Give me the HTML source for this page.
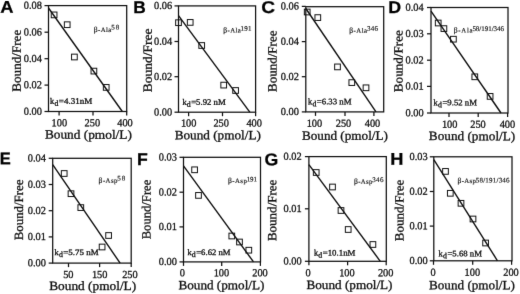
<!DOCTYPE html>
<html><head><meta charset="utf-8"><style>
html,body{margin:0;padding:0;background:#fff;width:520px;height:294px;overflow:hidden}
svg{display:block;text-rendering:geometricPrecision}
.ax{fill:none;stroke:#111;stroke-width:1.25}
.rl{stroke:#111;stroke-width:1.4}
.sq{fill:none;stroke:#111;stroke-width:1.0}
text{font-family:"Liberation Serif", serif;fill:#111;stroke:#111;stroke-width:0.3px}
.let{font-family:"Liberation Sans", sans-serif;font-weight:bold;font-size:17px;fill:#000;stroke:#000;stroke-width:0.25px}
.tk{font-size:10.8px}
.an{font-size:6.8px;stroke-width:0.15px}
.beta{font-size:7.6px}
.sup{font-size:7.0px;stroke-width:0.15px}
.kd{font-size:8.3px}
.sub{font-size:7.8px}
.lab{font-size:12.6px}
</style></head><body>
<svg xmlns="http://www.w3.org/2000/svg" width="520" height="294" viewBox="0 0 520 294">
<defs><filter id="bl" x="0" y="0" width="520" height="294" filterUnits="userSpaceOnUse" color-interpolation-filters="sRGB"><feConvolveMatrix order="3" kernelMatrix="0.00524 0.06192 0.00524 0.06192 0.73137 0.06192 0.00524 0.06192 0.00524" divisor="1" edgeMode="duplicate"/></filter></defs>
<g filter="url(#bl)">
<rect width="520" height="294" fill="#fff"/>
<g><text transform="translate(6.8,12.8) scale(1.08,1) rotate(0.05)" class="let" text-anchor="middle">A</text>
<rect x="48.5" y="5.6" width="78.2" height="105.9" class="ax"/>
<line x1="44.5" y1="5.6" x2="48.5" y2="5.6" class="ax"/>
<text transform="translate(42,8.8) scale(0.96,1) rotate(0.05)" class="tk" text-anchor="end">0.08</text>
<line x1="44.5" y1="32.2" x2="48.5" y2="32.2" class="ax"/>
<text transform="translate(42,35.4) scale(0.96,1) rotate(0.05)" class="tk" text-anchor="end">0.06</text>
<line x1="44.5" y1="58.7" x2="48.5" y2="58.7" class="ax"/>
<text transform="translate(42,61.9) scale(0.96,1) rotate(0.05)" class="tk" text-anchor="end">0.04</text>
<line x1="44.5" y1="85.1" x2="48.5" y2="85.1" class="ax"/>
<text transform="translate(42,88.3) scale(0.96,1) rotate(0.05)" class="tk" text-anchor="end">0.02</text>
<line x1="44.5" y1="111.5" x2="48.5" y2="111.5" class="ax"/>
<text transform="translate(42,114.7) scale(0.96,1) rotate(0.05)" class="tk" text-anchor="end">0.00</text>
<line x1="59.1" y1="111.5" x2="59.1" y2="115.5" class="ax"/>
<text transform="translate(59.3,126.3) scale(0.96,1) rotate(0.05)" class="tk" text-anchor="middle">100</text>
<line x1="93" y1="111.5" x2="93" y2="115.5" class="ax"/>
<text transform="translate(92.3,126.3) scale(0.96,1) rotate(0.05)" class="tk" text-anchor="middle">250</text>
<line x1="126.7" y1="111.5" x2="126.7" y2="115.5" class="ax"/>
<text transform="translate(125,126.3) scale(0.96,1) rotate(0.05)" class="tk" text-anchor="middle">400</text>
<line x1="48.5" y1="8" x2="122.3" y2="111.5" class="rl"/>
<rect x="51.25" y="12.05" width="5.7" height="5.7" class="sq"/>
<rect x="64.35" y="21.85" width="5.7" height="5.7" class="sq"/>
<rect x="71.55" y="54.15" width="5.7" height="5.7" class="sq"/>
<rect x="91.05" y="68.25" width="5.7" height="5.7" class="sq"/>
<rect x="103.35" y="84.55" width="5.7" height="5.7" class="sq"/>
<text transform="translate(93.8,32.1) rotate(0.05)" class="an" textLength="17.6" lengthAdjust="spacing"><tspan class="beta">β</tspan>-Ala</text>
<text transform="translate(111.3,29.4) rotate(0.05)" class="sup" textLength="8" lengthAdjust="spacing">58</text>
<text transform="translate(50,103.7) rotate(0.05)" class="kd">k</text>
<text transform="translate(54.4,105.7) rotate(0.05)" class="sub">d</text>
<text transform="translate(58.8,103.7) rotate(0.05)" class="kd" textLength="33.35" lengthAdjust="spacingAndGlyphs">=4.31nM</text>
<text transform="translate(20.8,91.7) rotate(-89.95)" class="lab" textLength="61.9" lengthAdjust="spacingAndGlyphs">Bound/Free</text>
<text transform="translate(44.9,138.6) rotate(0.05)" class="lab" textLength="87" lengthAdjust="spacingAndGlyphs">Bound (pmol/L)</text></g>
<g><text transform="translate(139.45,12.9) scale(1.02,1) rotate(0.05)" class="let" text-anchor="middle">B</text>
<rect x="178.5" y="5.9" width="77.1" height="106.3" class="ax"/>
<line x1="174.5" y1="5.9" x2="178.5" y2="5.9" class="ax"/>
<text transform="translate(172.1,9.1) scale(0.96,1) rotate(0.05)" class="tk" text-anchor="end">0.06</text>
<line x1="174.5" y1="41.5" x2="178.5" y2="41.5" class="ax"/>
<text transform="translate(172.1,44.7) scale(0.96,1) rotate(0.05)" class="tk" text-anchor="end">0.04</text>
<line x1="174.5" y1="76.7" x2="178.5" y2="76.7" class="ax"/>
<text transform="translate(172.1,79.9) scale(0.96,1) rotate(0.05)" class="tk" text-anchor="end">0.02</text>
<line x1="174.5" y1="112.2" x2="178.5" y2="112.2" class="ax"/>
<text transform="translate(172.1,115.4) scale(0.96,1) rotate(0.05)" class="tk" text-anchor="end">0.00</text>
<line x1="188.6" y1="112.2" x2="188.6" y2="116.2" class="ax"/>
<text transform="translate(188.7,126.5) scale(0.96,1) rotate(0.05)" class="tk" text-anchor="middle">100</text>
<line x1="222.5" y1="112.2" x2="222.5" y2="116.2" class="ax"/>
<text transform="translate(221.2,126.5) scale(0.96,1) rotate(0.05)" class="tk" text-anchor="middle">250</text>
<line x1="255.6" y1="112.2" x2="255.6" y2="116.2" class="ax"/>
<text transform="translate(254.2,126.5) scale(0.96,1) rotate(0.05)" class="tk" text-anchor="middle">400</text>
<line x1="178.5" y1="15.7" x2="249.8" y2="112.2" class="rl"/>
<rect x="175.65" y="19.85" width="5.7" height="5.7" class="sq"/>
<rect x="187.35" y="19.55" width="5.7" height="5.7" class="sq"/>
<rect x="198.85" y="42.65" width="5.7" height="5.7" class="sq"/>
<rect x="220.85" y="82.25" width="5.7" height="5.7" class="sq"/>
<rect x="232.75" y="87.65" width="5.7" height="5.7" class="sq"/>
<text transform="translate(223.3,32.5) rotate(0.05)" class="an" textLength="17.4" lengthAdjust="spacing"><tspan class="beta">β</tspan>-Ala</text>
<text transform="translate(240.6,30.8) rotate(0.05)" class="sup" textLength="10.8" lengthAdjust="spacing">191</text>
<text transform="translate(182.4,104.7) rotate(0.05)" class="kd">k</text>
<text transform="translate(186.8,106.7) rotate(0.05)" class="sub">d</text>
<text transform="translate(191.2,104.7) rotate(0.05)" class="kd" textLength="34.5" lengthAdjust="spacingAndGlyphs">=5.92 nM</text>
<text transform="translate(151.7,92.3) rotate(-89.95)" class="lab" textLength="63.9" lengthAdjust="spacingAndGlyphs">Bound/Free</text>
<text transform="translate(174.7,139.3) rotate(0.05)" class="lab" textLength="86.2" lengthAdjust="spacingAndGlyphs">Bound (pmol/L)</text></g>
<g><text transform="translate(268.2,12.9) scale(1.12,1) rotate(0.05)" class="let" text-anchor="middle">C</text>
<rect x="305.8" y="6.7" width="77.9" height="105.2" class="ax"/>
<line x1="301.8" y1="6.4" x2="305.8" y2="6.4" class="ax"/>
<text transform="translate(299,9.6) scale(0.96,1) rotate(0.05)" class="tk" text-anchor="end">0.06</text>
<line x1="301.8" y1="41.6" x2="305.8" y2="41.6" class="ax"/>
<text transform="translate(299,44.8) scale(0.96,1) rotate(0.05)" class="tk" text-anchor="end">0.04</text>
<line x1="301.8" y1="76.7" x2="305.8" y2="76.7" class="ax"/>
<text transform="translate(299,79.9) scale(0.96,1) rotate(0.05)" class="tk" text-anchor="end">0.02</text>
<line x1="301.8" y1="111.9" x2="305.8" y2="111.9" class="ax"/>
<text transform="translate(299,115.1) scale(0.96,1) rotate(0.05)" class="tk" text-anchor="end">0.00</text>
<line x1="315.5" y1="111.9" x2="315.5" y2="115.9" class="ax"/>
<text transform="translate(314.4,126.7) scale(0.96,1) rotate(0.05)" class="tk" text-anchor="middle">100</text>
<line x1="345" y1="111.9" x2="345" y2="115.9" class="ax"/>
<text transform="translate(343.5,126.7) scale(0.96,1) rotate(0.05)" class="tk" text-anchor="middle">250</text>
<line x1="373.9" y1="111.9" x2="373.9" y2="115.9" class="ax"/>
<text transform="translate(372.5,126.7) scale(0.96,1) rotate(0.05)" class="tk" text-anchor="middle">400</text>
<line x1="305.8" y1="8.5" x2="376" y2="111.9" class="rl"/>
<rect x="304.35" y="9.15" width="5.7" height="5.7" class="sq"/>
<rect x="314.95" y="14.75" width="5.7" height="5.7" class="sq"/>
<rect x="334.65" y="64.05" width="5.7" height="5.7" class="sq"/>
<rect x="348.95" y="79.75" width="5.7" height="5.7" class="sq"/>
<rect x="363.15" y="84.95" width="5.7" height="5.7" class="sq"/>
<text transform="translate(349.2,32.7) rotate(0.05)" class="an" textLength="17.9" lengthAdjust="spacing"><tspan class="beta">β</tspan>-Ala</text>
<text transform="translate(367,30.8) rotate(0.05)" class="sup" textLength="11.1" lengthAdjust="spacing">346</text>
<text transform="translate(308,104.3) rotate(0.05)" class="kd">k</text>
<text transform="translate(312.4,106.3) rotate(0.05)" class="sub">d</text>
<text transform="translate(316.8,104.3) rotate(0.05)" class="kd" textLength="34.8" lengthAdjust="spacingAndGlyphs">=6.33 nM</text>
<text transform="translate(276.4,92) rotate(-89.95)" class="lab" textLength="61.5" lengthAdjust="spacingAndGlyphs">Bound/Free</text>
<text transform="translate(301.9,139.8) rotate(0.05)" class="lab" textLength="86.1" lengthAdjust="spacingAndGlyphs">Bound (pmol/L)</text></g>
<g><text transform="translate(394.7,12.9) scale(1.05,1) rotate(0.05)" class="let" text-anchor="middle">D</text>
<rect x="431" y="7.5" width="77" height="105.5" class="ax"/>
<line x1="427" y1="7.5" x2="431" y2="7.5" class="ax"/>
<text transform="translate(423.7,10.7) scale(0.96,1) rotate(0.05)" class="tk" text-anchor="end">0.04</text>
<line x1="427" y1="33.8" x2="431" y2="33.8" class="ax"/>
<text transform="translate(423.7,37) scale(0.96,1) rotate(0.05)" class="tk" text-anchor="end">0.03</text>
<line x1="427" y1="60.2" x2="431" y2="60.2" class="ax"/>
<text transform="translate(423.7,63.4) scale(0.96,1) rotate(0.05)" class="tk" text-anchor="end">0.02</text>
<line x1="427" y1="86.4" x2="431" y2="86.4" class="ax"/>
<text transform="translate(423.7,89.6) scale(0.96,1) rotate(0.05)" class="tk" text-anchor="end">0.01</text>
<line x1="427" y1="113" x2="431" y2="113" class="ax"/>
<text transform="translate(423.7,116.2) scale(0.96,1) rotate(0.05)" class="tk" text-anchor="end">0.00</text>
<line x1="449" y1="113" x2="449" y2="117" class="ax"/>
<text transform="translate(449.7,127.8) scale(0.96,1) rotate(0.05)" class="tk" text-anchor="middle">100</text>
<line x1="478.2" y1="113" x2="478.2" y2="117" class="ax"/>
<text transform="translate(478,127.8) scale(0.96,1) rotate(0.05)" class="tk" text-anchor="middle">250</text>
<line x1="507.6" y1="113" x2="507.6" y2="117" class="ax"/>
<text transform="translate(507.4,127.8) scale(0.96,1) rotate(0.05)" class="tk" text-anchor="middle">400</text>
<line x1="431" y1="11.1" x2="501" y2="113" class="rl"/>
<rect x="435.35" y="20.15" width="5.7" height="5.7" class="sq"/>
<rect x="441.05" y="25.75" width="5.7" height="5.7" class="sq"/>
<rect x="450.55" y="36.35" width="5.7" height="5.7" class="sq"/>
<rect x="471.95" y="73.95" width="5.7" height="5.7" class="sq"/>
<rect x="487.25" y="93.55" width="5.7" height="5.7" class="sq"/>
<text transform="translate(453.8,32.6) rotate(0.05)" class="an" textLength="18.7" lengthAdjust="spacing"><tspan class="beta">β</tspan>-Ala</text>
<text transform="translate(472.4,30.9) rotate(0.05)" class="sup" textLength="31.6" lengthAdjust="spacing">58/191/346</text>
<text transform="translate(433.6,105.3) rotate(0.05)" class="kd">k</text>
<text transform="translate(438,107.3) rotate(0.05)" class="sub">d</text>
<text transform="translate(442.4,105.3) rotate(0.05)" class="kd" textLength="34.6" lengthAdjust="spacingAndGlyphs">=9.52 nM</text>
<text transform="translate(402.5,92.2) rotate(-89.95)" class="lab" textLength="62.1" lengthAdjust="spacingAndGlyphs">Bound/Free</text>
<text transform="translate(428.8,140.1) rotate(0.05)" class="lab" textLength="86.5" lengthAdjust="spacingAndGlyphs">Bound (pmol/L)</text></g>
<g><text transform="translate(5.2,164.3) scale(0.97,1) rotate(0.05)" class="let" text-anchor="middle">E</text>
<rect x="52.7" y="158.3" width="78.5" height="104.8" class="ax"/>
<line x1="48.7" y1="158.3" x2="52.7" y2="158.3" class="ax"/>
<text transform="translate(45.9,161.5) scale(0.96,1) rotate(0.05)" class="tk" text-anchor="end">0.04</text>
<line x1="48.7" y1="184.5" x2="52.7" y2="184.5" class="ax"/>
<text transform="translate(45.9,187.7) scale(0.96,1) rotate(0.05)" class="tk" text-anchor="end">0.03</text>
<line x1="48.7" y1="210.7" x2="52.7" y2="210.7" class="ax"/>
<text transform="translate(45.9,213.9) scale(0.96,1) rotate(0.05)" class="tk" text-anchor="end">0.02</text>
<line x1="48.7" y1="236.9" x2="52.7" y2="236.9" class="ax"/>
<text transform="translate(45.9,240.1) scale(0.96,1) rotate(0.05)" class="tk" text-anchor="end">0.01</text>
<line x1="48.7" y1="263.1" x2="52.7" y2="263.1" class="ax"/>
<text transform="translate(45.9,266.3) scale(0.96,1) rotate(0.05)" class="tk" text-anchor="end">0.00</text>
<line x1="68.5" y1="263.1" x2="68.5" y2="267.1" class="ax"/>
<text transform="translate(68.3,277.9) scale(0.96,1) rotate(0.05)" class="tk" text-anchor="middle">50</text>
<line x1="99.6" y1="263.1" x2="99.6" y2="267.1" class="ax"/>
<text transform="translate(99.7,277.9) scale(0.96,1) rotate(0.05)" class="tk" text-anchor="middle">150</text>
<line x1="131.2" y1="263.1" x2="131.2" y2="267.1" class="ax"/>
<text transform="translate(129.9,277.9) scale(0.96,1) rotate(0.05)" class="tk" text-anchor="middle">250</text>
<line x1="52.7" y1="164.6" x2="120.1" y2="263.1" class="rl"/>
<rect x="61.35" y="170.65" width="5.7" height="5.7" class="sq"/>
<rect x="68.15" y="190.85" width="5.7" height="5.7" class="sq"/>
<rect x="77.95" y="204.75" width="5.7" height="5.7" class="sq"/>
<rect x="99.25" y="244.15" width="5.7" height="5.7" class="sq"/>
<rect x="105.75" y="232.65" width="5.7" height="5.7" class="sq"/>
<text transform="translate(98.6,182.8) rotate(0.05)" class="an" textLength="18.8" lengthAdjust="spacing"><tspan class="beta">β</tspan>-Asp</text>
<text transform="translate(117.3,180.6) rotate(0.05)" class="sup" textLength="8" lengthAdjust="spacing">58</text>
<text transform="translate(54.5,255) rotate(0.05)" class="kd">k</text>
<text transform="translate(58.9,257) rotate(0.05)" class="sub">d</text>
<text transform="translate(63.3,255) rotate(0.05)" class="kd" textLength="35.4" lengthAdjust="spacingAndGlyphs">=5.75 nM</text>
<text transform="translate(23,240.3) rotate(-89.95)" class="lab" textLength="60.8" lengthAdjust="spacingAndGlyphs">Bound/Free</text>
<text transform="translate(49.2,290) rotate(0.05)" class="lab" textLength="87" lengthAdjust="spacingAndGlyphs">Bound (pmol/L)</text></g>
<g><text transform="translate(142.4,164.9) scale(1.04,1) rotate(0.05)" class="let" text-anchor="middle">F</text>
<rect x="183.5" y="157.3" width="77" height="104.6" class="ax"/>
<line x1="179.5" y1="157.3" x2="183.5" y2="157.3" class="ax"/>
<text transform="translate(176.9,160.5) scale(0.96,1) rotate(0.05)" class="tk" text-anchor="end">0.03</text>
<line x1="179.5" y1="192.2" x2="183.5" y2="192.2" class="ax"/>
<text transform="translate(176.9,195.4) scale(0.96,1) rotate(0.05)" class="tk" text-anchor="end">0.02</text>
<line x1="179.5" y1="226.9" x2="183.5" y2="226.9" class="ax"/>
<text transform="translate(176.9,230.1) scale(0.96,1) rotate(0.05)" class="tk" text-anchor="end">0.01</text>
<line x1="179.5" y1="261.9" x2="183.5" y2="261.9" class="ax"/>
<text transform="translate(176.9,265.1) scale(0.96,1) rotate(0.05)" class="tk" text-anchor="end">0.00</text>
<line x1="183.5" y1="261.9" x2="183.5" y2="265.9" class="ax"/>
<text transform="translate(182.3,276.3) scale(0.96,1) rotate(0.05)" class="tk" text-anchor="middle">0</text>
<line x1="221.7" y1="261.9" x2="221.7" y2="265.9" class="ax"/>
<text transform="translate(221.4,276.3) scale(0.96,1) rotate(0.05)" class="tk" text-anchor="middle">100</text>
<line x1="260.4" y1="261.9" x2="260.4" y2="265.9" class="ax"/>
<text transform="translate(260,276.3) scale(0.96,1) rotate(0.05)" class="tk" text-anchor="middle">200</text>
<line x1="183.5" y1="165.9" x2="253.5" y2="261.9" class="rl"/>
<rect x="191.75" y="166.95" width="5.7" height="5.7" class="sq"/>
<rect x="195.65" y="192.55" width="5.7" height="5.7" class="sq"/>
<rect x="228.95" y="233.15" width="5.7" height="5.7" class="sq"/>
<rect x="236.65" y="239.15" width="5.7" height="5.7" class="sq"/>
<rect x="245.95" y="247.35" width="5.7" height="5.7" class="sq"/>
<text transform="translate(227.9,183.1) rotate(0.05)" class="an" textLength="18.9" lengthAdjust="spacing"><tspan class="beta">β</tspan>-Asp</text>
<text transform="translate(246.7,181.5) rotate(0.05)" class="sup" textLength="10.3" lengthAdjust="spacing">191</text>
<text transform="translate(187.4,255) rotate(0.05)" class="kd">k</text>
<text transform="translate(191.8,257) rotate(0.05)" class="sub">d</text>
<text transform="translate(196.2,255) rotate(0.05)" class="kd" textLength="34.4" lengthAdjust="spacingAndGlyphs">=6.62 nM</text>
<text transform="translate(150.4,239.3) rotate(-89.95)" class="lab" textLength="59.6" lengthAdjust="spacingAndGlyphs">Bound/Free</text>
<text transform="translate(178.4,289.2) rotate(0.05)" class="lab" textLength="86.1" lengthAdjust="spacingAndGlyphs">Bound (pmol/L)</text></g>
<g><text transform="translate(271.45,165.2) scale(1.04,1) rotate(0.05)" class="let" text-anchor="middle">G</text>
<rect x="308.9" y="156.6" width="77.4" height="104.7" class="ax"/>
<line x1="304.9" y1="156.6" x2="308.9" y2="156.6" class="ax"/>
<text transform="translate(301.7,159.8) scale(0.96,1) rotate(0.05)" class="tk" text-anchor="end">0.02</text>
<line x1="304.9" y1="208.8" x2="308.9" y2="208.8" class="ax"/>
<text transform="translate(301.7,212) scale(0.96,1) rotate(0.05)" class="tk" text-anchor="end">0.01</text>
<line x1="304.9" y1="261.3" x2="308.9" y2="261.3" class="ax"/>
<text transform="translate(301.7,264.5) scale(0.96,1) rotate(0.05)" class="tk" text-anchor="end">0.00</text>
<line x1="308.9" y1="261.3" x2="308.9" y2="265.3" class="ax"/>
<text transform="translate(308,276.2) scale(0.96,1) rotate(0.05)" class="tk" text-anchor="middle">0</text>
<line x1="347.6" y1="261.3" x2="347.6" y2="265.3" class="ax"/>
<text transform="translate(346.9,276.2) scale(0.96,1) rotate(0.05)" class="tk" text-anchor="middle">100</text>
<line x1="386.2" y1="261.3" x2="386.2" y2="265.3" class="ax"/>
<text transform="translate(385.7,276.2) scale(0.96,1) rotate(0.05)" class="tk" text-anchor="middle">200</text>
<line x1="308.9" y1="164.6" x2="380.3" y2="261.3" class="rl"/>
<rect x="313.35" y="169.65" width="5.7" height="5.7" class="sq"/>
<rect x="329.65" y="184.15" width="5.7" height="5.7" class="sq"/>
<rect x="338.15" y="207.65" width="5.7" height="5.7" class="sq"/>
<rect x="345.35" y="226.65" width="5.7" height="5.7" class="sq"/>
<rect x="370.05" y="241.65" width="5.7" height="5.7" class="sq"/>
<text transform="translate(354,183.8) rotate(0.05)" class="an" textLength="18.4" lengthAdjust="spacing"><tspan class="beta">β</tspan>-Asp</text>
<text transform="translate(372.3,182.1) rotate(0.05)" class="sup" textLength="11.1" lengthAdjust="spacing">346</text>
<text transform="translate(313.9,255.4) rotate(0.05)" class="kd">k</text>
<text transform="translate(318.3,257.4) rotate(0.05)" class="sub">d</text>
<text transform="translate(322.7,255.4) rotate(0.05)" class="kd" textLength="32.7" lengthAdjust="spacingAndGlyphs">=10.1nM</text>
<text transform="translate(276.3,241.1) rotate(-89.95)" class="lab" textLength="61.5" lengthAdjust="spacingAndGlyphs">Bound/Free</text>
<text transform="translate(306.5,288.9) rotate(0.05)" class="lab" textLength="86" lengthAdjust="spacingAndGlyphs">Bound (pmol/L)</text></g>
<g><text transform="translate(396.7,164.7) scale(1.07,1) rotate(0.05)" class="let" text-anchor="middle">H</text>
<rect x="433.8" y="156.8" width="78.2" height="104" class="ax"/>
<line x1="429.8" y1="156.8" x2="433.8" y2="156.8" class="ax"/>
<text transform="translate(427.7,160) scale(0.96,1) rotate(0.05)" class="tk" text-anchor="end">0.03</text>
<line x1="429.8" y1="191.5" x2="433.8" y2="191.5" class="ax"/>
<text transform="translate(427.7,194.7) scale(0.96,1) rotate(0.05)" class="tk" text-anchor="end">0.02</text>
<line x1="429.8" y1="226.1" x2="433.8" y2="226.1" class="ax"/>
<text transform="translate(427.7,229.3) scale(0.96,1) rotate(0.05)" class="tk" text-anchor="end">0.01</text>
<line x1="429.8" y1="260.8" x2="433.8" y2="260.8" class="ax"/>
<text transform="translate(427.7,264) scale(0.96,1) rotate(0.05)" class="tk" text-anchor="end">0.00</text>
<line x1="433.5" y1="260.8" x2="433.5" y2="264.8" class="ax"/>
<text transform="translate(433,275.7) scale(0.96,1) rotate(0.05)" class="tk" text-anchor="middle">0</text>
<line x1="472.7" y1="260.8" x2="472.7" y2="264.8" class="ax"/>
<text transform="translate(472.3,275.7) scale(0.96,1) rotate(0.05)" class="tk" text-anchor="middle">100</text>
<line x1="511.6" y1="260.8" x2="511.6" y2="264.8" class="ax"/>
<text transform="translate(511,275.7) scale(0.96,1) rotate(0.05)" class="tk" text-anchor="middle">200</text>
<line x1="433.8" y1="159.6" x2="497.5" y2="260.8" class="rl"/>
<rect x="442.65" y="168.55" width="5.7" height="5.7" class="sq"/>
<rect x="447.45" y="190.45" width="5.7" height="5.7" class="sq"/>
<rect x="458.15" y="200.45" width="5.7" height="5.7" class="sq"/>
<rect x="470.15" y="216.15" width="5.7" height="5.7" class="sq"/>
<rect x="482.75" y="240.15" width="5.7" height="5.7" class="sq"/>
<text transform="translate(457.6,182.9) rotate(0.05)" class="an" textLength="18.2" lengthAdjust="spacing"><tspan class="beta">β</tspan>-Asp</text>
<text transform="translate(475.7,182.4) rotate(0.05)" class="sup" textLength="33.9" lengthAdjust="spacing">58/191/346</text>
<text transform="translate(438.6,256.2) rotate(0.05)" class="kd">k</text>
<text transform="translate(443,258.2) rotate(0.05)" class="sub">d</text>
<text transform="translate(447.4,256.2) rotate(0.05)" class="kd" textLength="34.6" lengthAdjust="spacingAndGlyphs">=5.68 nM</text>
<text transform="translate(403.5,241.2) rotate(-89.95)" class="lab" textLength="61.5" lengthAdjust="spacingAndGlyphs">Bound/Free</text>
<text transform="translate(429,289.2) rotate(0.05)" class="lab" textLength="85.9" lengthAdjust="spacingAndGlyphs">Bound (pmol/L)</text></g>
</g>
</svg>
</body></html>
